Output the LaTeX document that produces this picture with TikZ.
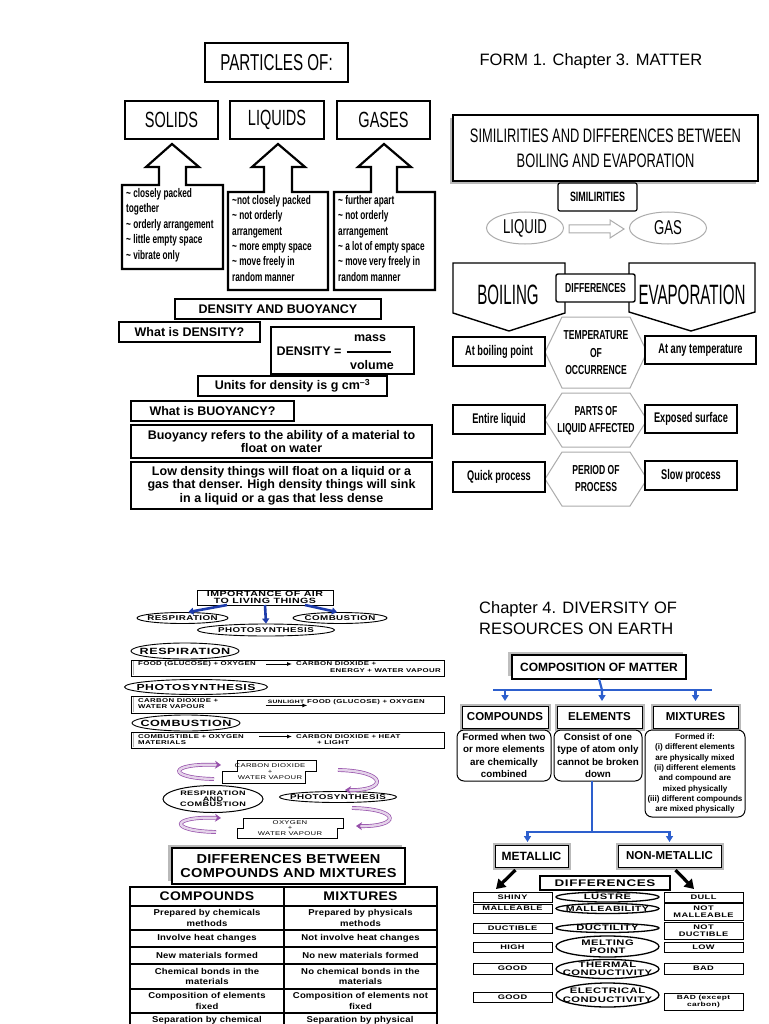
\documentclass[tikz,border=0pt]{standalone}
\usepackage{fontspec}
\setmainfont{Liberation Sans}
\newfontfamily\narrow[FakeStretch=0.66]{Liberation Sans}
\newfontfamily\vnarrow[FakeStretch=0.54]{Liberation Sans}
\newfontfamily\wide[FakeStretch=1.4,LetterSpace=6]{Liberation Sans}
\newfontfamily\medw[FakeStretch=1.12,LetterSpace=2]{Liberation Sans}
\usetikzlibrary{calc,arrows.meta,shapes.geometric}
\newcommand\fs[2]{\fontsize{#1}{#2}\selectfont}
\newcommand\tld{\textasciitilde}
\newcommand\bx[7][]{\node[bxs,#1,minimum width={#5-#3},minimum height={#6-#4}] (#2) at ({(#3+#5)/2},{(#4+#6)/2}) {#7};}
% ellipse with fixed size and centred label
\newcommand\elx[8][]{\node[elb,#1,minimum width=#5pt,minimum height=#6pt,label={[inner sep=0pt,align=center,font=#7]center:#8}] (#2) at (#3,#4) {};}
\definecolor{myblue}{RGB}{45,95,205}
\definecolor{dblue}{RGB}{30,60,170}
\definecolor{purp}{RGB}{150,80,170}
\tikzset{
  bxs/.style={inner sep=0pt, outer sep=0pt, align=center},
  thickbox/.style={draw, line width=2.6pt, fill=white},
  medbox/.style={draw, line width=2.2pt, fill=white},
  mb/.style={draw, line width=1.8pt, fill=white, font=\bfseries\fs{12.5}{13.7}},
  nb/.style={draw, line width=1.6pt, fill=white, font=\narrow\bfseries\fs{14}{15}},
  hexa/.style={draw=gray!65, line width=1pt},
  hext/.style={inner sep=0pt, align=center, font=\narrow\bfseries\fs{13}{17.5}},
  ellg/.style={ellipse, draw=gray!65, line width=1pt, inner sep=0pt},
  elb/.style={ellipse, draw, line width=0.9pt, inner sep=0pt, fill=white},
  rbx/.style={draw, line width=0.8pt, fill=white},
  rtx/.style={inner sep=0pt, font=\wide\bfseries\fs{5.6}{6.2}, align=left},
  bla/.style={draw=dblue, line width=2.6pt, -{Triangle[length=5pt,width=7pt]}},
  cell/.style={draw, line width=1.3pt, font=\medw\bfseries\fs{8.5}{10.5}},
  dbox/.style={draw, line width=1pt, fill=white, preaction={draw=gray!55, line width=5pt}},
  rnd/.style={draw, line width=1pt, rounded corners=7pt, fill=white},
  blu/.style={draw=myblue, line width=2.2pt},
  bluar/.style={draw=myblue, line width=2.2pt, -{Triangle[length=6pt,width=7pt]}},
  sb/.style={draw, line width=1pt, fill=white, font=\wide\bfseries\fs{6.6}{7}},
  el2/.style={line width=1.3pt},
  parr/.style={draw=purp, line width=0.7pt, double=purp!25, double distance=2.4pt, -{Stealth[length=6pt,width=8pt]}}
}
\begin{document}
\begin{tikzpicture}[x=1pt,y=-1pt]
\useasboundingbox (0,0) rectangle (768,1024);
\fill[white] (0,0) rectangle (768,1024);
\clip (0,0) rectangle (768,1024);

% ================= PARTICLES =================
\bx[thickbox, font=\narrow\fs{23}{24}]{particles}{205}{43}{348}{82}{PARTICLES OF:}
\bx[medbox, font=\narrow\fs{22}{24}]{solids}{125}{101}{218}{139}{SOLIDS}
\bx[medbox, font=\narrow\fs{22}{24}]{liquids}{230}{101}{324}{139}{LIQUIDS}
\bx[medbox, font=\narrow\fs{22}{24}]{gases}{337}{101}{430}{139}{GASES}

\draw[line width=2.2pt, line join=miter] (122,185) -- (159,185) -- (159,167) -- (146,167) -- (172,144) -- (199,167) -- (186,167) -- (186,185) -- (223,185) -- (223,269) -- (122,269) -- cycle;
\draw[line width=2.2pt, line join=miter] (228,192) -- (264,192) -- (264,167) -- (252,167) -- (278,144) -- (305,167) -- (292,167) -- (292,192) -- (328,192) -- (328,290) -- (228,290) -- cycle;
\draw[line width=2.2pt, line join=miter] (334,192) -- (371,192) -- (371,167) -- (358,167) -- (384,144) -- (411,167) -- (397,167) -- (397,192) -- (435,192) -- (435,290) -- (334,290) -- cycle;

\node[anchor=north west, align=left, inner sep=0pt, font=\narrow\bfseries\fs{12.5}{15.5}] (soltx) at (126,188) {\tld{} closely packed\\together\\\tld{} orderly arrangement\\\tld{} little empty space\\\tld{} vibrate only};
\node[anchor=north west, align=left, inner sep=0pt, font=\narrow\bfseries\fs{12.5}{15.4}] (liqtx) at (232,195) {\tld{}not closely packed\\\tld{} not orderly\\arrangement\\\tld{} more empty space\\\tld{} move freely in\\random manner};
\node[anchor=north west, align=left, inner sep=0pt, font=\narrow\bfseries\fs{12.5}{15.4}] (gastx) at (338,195) {\tld{} further apart\\\tld{} not orderly\\arrangement\\\tld{} a lot of empty space\\\tld{} move very freely in\\random manner};

% ================= DENSITY =================
\bx[mb]{dab}{175}{299}{381}{319}{DENSITY AND BUOYANCY}
\bx[mb]{wid}{119}{322}{260}{342}{What is DENSITY?}
\bx[mb]{dens}{271}{327}{414}{374}{}
\node[inner sep=0pt, font=\bfseries\fs{12.5}{14}] (dl) at (309,351) {DENSITY =};
\node[inner sep=0pt, font=\bfseries\fs{12.5}{14}] (mass) at (370,338) {mass};
\node[inner sep=0pt, font=\bfseries\fs{12.5}{14}] (vol) at (372,365) {volume};
\draw[line width=1.3pt] ($(dl.east)+(5,1)$) -- ++(44,0);
\bx[mb]{units}{198}{376}{387}{396}{Units for density is g cm\textsuperscript{–3}}
\bx[mb]{wib}{131}{401}{294}{421}{What is BUOYANCY?}
\bx[mb]{bref}{131}{425}{432}{458}{Buoyancy refers to the ability of a material to\\float on water}
\bx[mb]{low}{131}{462}{432}{509}{Low density things will float on a liquid or a\\gas that denser. High density things will sink\\in a liquid or a gas that less dense}

% ================= BOILING / EVAPORATION =================
\node[inner sep=0pt, font=\fs{16.5}{18}] (form1) at (591,61) {FORM 1. Chapter 3. MATTER};
\fill[gray!55] (450,118) rectangle (756,184);
\bx[medbox, font=\narrow\fs{19.5}{25}]{sim}{453}{115}{758}{181}{SIMILIRITIES AND DIFFERENCES BETWEEN\\BOILING AND EVAPORATION}
\bx[draw, line width=1.2pt, rounded corners=2pt, fill=white, font=\narrow\bfseries\fs{13.5}{15}]{simbox}{558}{183}{637}{211}{SIMILIRITIES}
\node[ellg, minimum width=77pt, minimum height=32pt, font=\narrow\fs{20}{20}] (liquid) at (525,228) {LIQUID};
\node[ellg, minimum width=77pt, minimum height=32pt, font=\narrow\fs{20}{20}] (gas) at (668,228) {GAS};
\draw[draw=gray!65, line width=1pt] (569,225) -- (610,225) -- (610,220) -- (624,229) -- (610,238) -- (610,233) -- (569,233) -- cycle;

\draw[line width=1.4pt, line join=miter] (453,263) -- (565,263) -- (565,313) -- (509,331) -- (453,313) -- cycle;
\draw[line width=1.4pt, line join=miter] (629,263) -- (755,263) -- (755,312) -- (691,331) -- (629,312) -- cycle;
\node[inner sep=0pt, font=\vnarrow\fs{28}{28}] (boiling) at (508,295) {BOILING};
\node[inner sep=0pt, font=\vnarrow\fs{28}{28}] (evap) at (692,295) {EVAPORATION};
\bx[draw, line width=1.4pt, rounded corners=2pt, fill=white, font=\narrow\bfseries\fs{13}{14}]{diffs}{556}{274}{635}{302}{DIFFERENCES}

\draw[hexa] (545,352) -- (562,317) -- (630,317) -- (647,352) -- (630,388) -- (562,388) -- cycle;
\draw[hexa] (545,420) -- (562,393) -- (630,393) -- (647,420) -- (630,447) -- (562,447) -- cycle;
\draw[hexa] (545,479) -- (562,452) -- (630,452) -- (647,479) -- (630,506) -- (562,506) -- cycle;
\node[hext] (temp) at (596,353) {TEMPERATURE\\OF\\OCCURRENCE};
\node[hext, font=\narrow\bfseries\fs{13}{17}] (parts) at (596,421) {PARTS OF\\LIQUID AFFECTED};
\node[hext, font=\narrow\bfseries\fs{13}{17}] (period) at (596,479) {PERIOD OF\\PROCESS};

\bx[nb]{abp}{453}{337}{545}{366}{At boiling point}
\bx[nb]{aat}{645}{336}{756}{364}{At any temperature}
\bx[nb]{ent}{453}{405}{545}{434}{Entire liquid}
\bx[nb]{exs}{645}{405}{737}{433}{Exposed surface}
\bx[nb]{qui}{453}{462}{545}{492}{Quick process}
\bx[nb]{slo}{645}{461}{737}{490}{Slow process}

% ================= IMPORTANCE OF AIR =================
\bx[draw, line width=1pt, fill=white, font=\wide\bfseries\fs{7.6}{7}]{imp}{197}{590}{333}{605}{IMPORTANCE OF AIR\\TO LIVING THINGS}
\elx{resp1}{182.5}{618}{91}{11}{\wide\bfseries\fs{7}{7}}{RESPIRATION}
\elx{comb1}{340}{618}{94}{11}{\wide\bfseries\fs{7}{7}}{COMBUSTION}
\elx{photo1}{266}{630}{137}{12}{\wide\bfseries\fs{7}{7}}{PHOTOSYNTHESIS}
\draw[bla] ($(imp.south west)+(30,0)$) -- (resp1.45);
\draw[bla] (imp.south) -- (photo1.north);
\draw[bla] ($(imp.south east)+(-28,0)$) -- (comb1.117);

\elx{resp2}{185}{651}{108}{16}{\wide\bfseries\fs{9}{9}}{RESPIRATION}
\bx[rbx]{rx1}{131}{660}{444}{676}{}
\draw[gray!60, line width=1.5pt] ($(rx1.north west)+(2.5,1)$) -- ($(rx1.south west)+(2.5,-1)$);
\node[rtx, anchor=west] (r1a) at (138,664) {FOOD (GLUCOSE) + OXYGEN};
\node[rtx, anchor=west] (r1b) at (296,664) {CARBON DIOXIDE +};
\node[rtx, anchor=east] (r1c) at (441,670.5) {ENERGY + WATER VAPOUR};
\draw[line width=0.9pt, -{Latex[length=5pt,width=4pt]}] ($(r1a.east)+(10,0)$) -- ($(r1b.west)+(-4,0)$);

\elx{photo2}{196}{687}{143}{15}{\wide\bfseries\fs{8.7}{9}}{PHOTOSYNTHESIS}
\bx[rbx]{rx2}{131}{696}{444}{713}{}
\draw[gray!60, line width=1.5pt] ($(rx2.north west)+(2.5,1)$) -- ($(rx2.south west)+(2.5,-1)$);
\node[rtx, anchor=west] (r2a) at (138,701) {CARBON DIOXIDE +};
\node[rtx, anchor=west] (r2b) at (138,707) {WATER VAPOUR};
\node[rtx, anchor=center, font=\wide\bfseries\fs{4.8}{5}] (sun) at (286,702) {SUNLIGHT};
\node[rtx, anchor=west] (r2c) at (307,702) {FOOD (GLUCOSE) + OXYGEN};
\draw[line width=0.9pt, -{Latex[length=5pt,width=4pt]}] ($(sun.south west)+(-2,1.5)$) -- ($(sun.south east)+(3,1.5)$);

\elx{comb2}{186}{723}{108}{16}{\wide\bfseries\fs{9}{9}}{COMBUSTION}
\bx[rbx]{rx3}{131}{732}{444}{748}{}
\draw[gray!60, line width=1.5pt] ($(rx3.north west)+(2.5,1)$) -- ($(rx3.south west)+(2.5,-1)$);
\node[rtx, anchor=west] (r3a) at (138,736.5) {COMBUSTIBLE + OXYGEN};
\node[rtx, anchor=west] (r3b) at (138,743) {MATERIALS};
\node[rtx, anchor=west] (r3c) at (296,736.5) {CARBON DIOXIDE + HEAT};
\node[rtx, anchor=west] (r3d) at (317,743) {+ LIGHT};
\draw[line width=0.9pt, -{Latex[length=5pt,width=4pt]}] ($(r3a.east)+(15,0)$) -- ($(r3c.west)+(-4,0)$);

% ================= CYCLE =================
\draw[line width=0.8pt] (237,760) -- (316,760) -- (316,771) -- (305,771) -- (305,783) -- (222,783) -- (222,771) -- (237,771) -- cycle;
\node[inner sep=0pt, align=center, font=\wide\fs{5.5}{5.8}] (co2) at (270,771.5) {CARBON DIOXIDE\\+\\WATER VAPOUR};
\draw[line width=0.8pt] (243,818) -- (343,818) -- (343,828) -- (337,828) -- (337,838) -- (237,838) -- (237,828) -- (243,828) -- cycle;
\node[inner sep=0pt, align=center, font=\wide\fs{5.5}{5.6}] (oxy) at (290,828) {OXYGEN\\+\\WATER VAPOUR};
\elx[line width=1pt]{rc}{213}{799}{100}{27}{\wide\bfseries\fs{6.5}{5.6}}{RESPIRATION\\AND\\COMBUSTION}
\elx{photo3}{338}{797}{117}{11}{\wide\bfseries\fs{7}{7}}{PHOTOSYNTHESIS}
\coordinate (p1s) at (214,779);
\coordinate (p1e) at (221,765);
\coordinate (p2s) at (338,770);
\coordinate (p2e) at (345,790);
\coordinate (p3s) at (352,808);
\coordinate (p3e) at (356,826);
\coordinate (p4s) at (216,832);
\coordinate (p4e) at (221,818);
\draw[parr] (p1s) .. controls (166,778) and (168,763) .. (p1e);
\draw[parr] (p2s) .. controls (388,771) and (388,791) .. (p2e);
\draw[parr] (p3s) .. controls (402,809) and (400,827) .. (p3e);
\draw[parr] (p4s) .. controls (168,831) and (170,816) .. (p4e);

% ================= TABLE =================
\fill[gray!55] (168,845) rectangle (402,881);
\bx[draw, line width=1.3pt, fill=white, font=\medw\bfseries\fs{13}{14}]{dbt}{172}{848}{405}{884}{DIFFERENCES BETWEEN\\COMPOUNDS AND MIXTURES}
\bx[cell, font=\medw\bfseries\fs{12.5}{13}]{h1}{130}{887}{284}{906}{COMPOUNDS}
\bx[cell, font=\medw\bfseries\fs{12.5}{13}]{h2}{284}{887}{437}{906}{MIXTURES}
\bx[cell]{a1}{130}{906}{284}{930}{Prepared by chemicals\\methods}
\bx[cell]{b1}{284}{906}{437}{930}{Prepared by physicals\\methods}
\bx[cell]{a2}{130}{930}{284}{947}{Involve heat changes}
\bx[cell]{b2}{284}{930}{437}{947}{Not involve heat changes}
\bx[cell]{a3}{130}{947}{284}{964}{New materials formed}
\bx[cell]{b3}{284}{947}{437}{964}{No new materials formed}
\bx[cell]{a4}{130}{964}{284}{989}{Chemical bonds in the\\materials}
\bx[cell]{b4}{284}{964}{437}{989}{No chemical bonds in the\\materials}
\bx[cell]{a5}{130}{989}{284}{1013}{Composition of elements\\fixed}
\bx[cell]{b5}{284}{989}{437}{1013}{Composition of elements not\\fixed}
\bx[cell]{a6}{130}{1013}{284}{1040}{}
\bx[cell]{b6}{284}{1013}{437}{1040}{}
\node[inner sep=0pt, font=\medw\bfseries\fs{8.5}{10.5}] (a6t) at (207,1020) {Separation by chemical};
\node[inner sep=0pt, font=\medw\bfseries\fs{8.5}{10.5}] (b6t) at (360,1020) {Separation by physical};
\draw[line width=2pt] (h1.north west) rectangle (b6.south east);

% ================= COMPOSITION OF MATTER =================
\node[anchor=west, align=left, inner sep=0pt, font=\fs{16.5}{21}] (ch4) at (479,618.5) {Chapter 4. DIVERSITY OF\\RESOURCES ON EARTH};
\fill[gray!50] (508,652) rectangle (683,676);
\bx[draw, line width=1.2pt, fill=white, font=\bfseries\fs{12}{13}]{com}{512}{655}{686}{679}{COMPOSITION OF MATTER}
\bx[dbox, font=\bfseries\fs{11.5}{12}]{cmp}{462}{706}{548}{728}{COMPOUNDS}
\bx[dbox, font=\bfseries\fs{11.5}{12}]{elm}{557}{706}{642}{728}{ELEMENTS}
\bx[dbox, font=\bfseries\fs{11.5}{12}]{mix}{653}{706}{738}{728}{MIXTURES}
\coordinate (hb) at (602,690);
\draw[blu] ($(hb)+(-109,0)$) -- ($(hb)+(110,0)$);
\draw[bluar, shorten >=5pt] (com.south) -- (hb) -- (hb |- elm.north);
\draw[bluar, shorten >=5pt] (hb) -| (cmp.north);
\draw[bluar, shorten >=5pt] (hb) -| (mix.north);
\bx[rnd, font=\bfseries\fs{9.8}{12.3}]{cmpd}{457}{730}{551}{781}{Formed when two\\or more elements\\are chemically\\combined}
\bx[rnd, font=\bfseries\fs{9.8}{12.3}]{elmd}{554}{730}{642}{781}{Consist of one\\type of atom only\\cannot be broken\\down}
\bx[rnd, font=\bfseries\fs{8.1}{10.3}]{mixd}{645}{730}{745}{817}{Formed if:\\(i) different elements\\are physically mixed\\(ii) different elements\\and compound are\\mixed physically\\(iii) different compounds\\are mixed physically}

\coordinate (eb) at (592,781);
\coordinate (hb2) at (592,832);
\draw[blu] (eb) -- (hb2);
\draw[blu] (527,832) -- (666,832);
\bx[dbox, font=\bfseries\fs{12}{13}]{met}{495}{845}{568}{867}{METALLIC}
\bx[dbox, font=\bfseries\fs{11.5}{13}]{nmet}{618}{845}{721}{867}{NON-METALLIC}
\draw[bluar, shorten >=3pt] (hb2) -| ($(met.north)+(-4,0)$);
\draw[bluar, shorten >=3pt] (hb2) -| (nmet.north);
\coordinate (mt) at (496,889);
\coordinate (nt) at (694,889);
\draw[line width=3.2pt, -{Triangle[length=9pt,width=11pt]}] ($(met.south)+(-16,3)$) -- (mt);
\draw[line width=3.2pt, -{Triangle[length=9pt,width=11pt]}] ($(nmet.south)+(6,3)$) -- (nt);

\bx[draw, line width=1.2pt, fill=white, font=\wide\bfseries\fs{9.6}{10}]{diff2}{540}{876}{670}{890}{DIFFERENCES}

\bx[sb]{shiny}{473}{892}{552}{902}{SHINY}
\bx[sb]{mall}{473}{904}{552}{913}{MALLEABLE}
\bx[sb]{duct}{473}{923}{552}{933}{DUCTIBLE}
\bx[sb]{high}{473}{942}{552}{952}{HIGH}
\bx[sb]{good1}{473}{963}{552}{974}{GOOD}
\bx[sb]{good2}{473}{992}{552}{1002}{GOOD}
\bx[sb]{dull}{664}{892}{743}{902}{DULL}
\bx[sb]{nmall}{664}{903}{743}{920}{NOT\\MALLEABLE}
\bx[sb]{nduct}{664}{922}{743}{939}{NOT\\DUCTIBLE}
\bx[sb]{low2}{664}{942}{743}{952}{LOW}
\bx[sb]{bad1}{664}{963}{743}{974}{BAD}
\bx[sb, font=\wide\bfseries\fs{6}{6.6}]{bad2}{664}{993}{743}{1010}{BAD (except\\carbon)}

\elx[el2]{lus}{607.5}{897}{103}{10}{\wide\bfseries\fs{8}{8.3}}{LUSTRE}
\elx[el2]{malb}{607.5}{908.5}{103}{10}{\wide\bfseries\fs{7.6}{8.3}}{MALLEABILITY}
\elx[el2]{dlt}{607.5}{928}{103}{9}{\wide\bfseries\fs{8}{8.3}}{DUCTILITY}
\elx[el2]{mp}{607.5}{946.5}{103}{21}{\wide\bfseries\fs{8}{8.3}}{MELTING\\POINT}
\elx[el2]{tc}{607.5}{969}{103}{19}{\wide\bfseries\fs{8}{8.3}}{THERMAL\\CONDUCTIVITY}
\elx[el2]{ec}{607.5}{995}{103}{24}{\wide\bfseries\fs{8}{8.6}}{ELECTRICAL\\CONDUCTIVITY}
\end{tikzpicture}
\end{document}
